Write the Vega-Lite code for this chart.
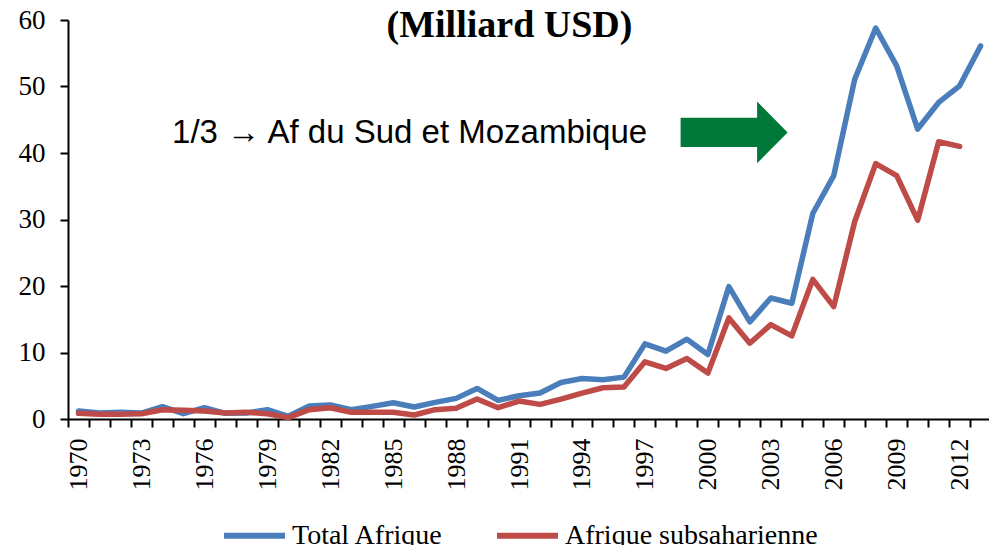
{
  "$schema": "https://vega.github.io/schema/vega-lite/v6.json",
  "width": 921,
  "height": 399,
  "autosize": {"type": "none"},
  "padding": {"left": 68, "top": 20, "right": 0, "bottom": 126},
  "background": "white",
  "config": {"view": {"stroke": null}},
  "title": {
    "text": "(Milliard USD)",
    "font": "Liberation Serif",
    "fontSize": 38,
    "fontWeight": "bold",
    "color": "black",
    "anchor": "middle",
    "frame": "group",
    "baseline": "alphabetic",
    "offset": -69,
    "dx": -19
  },
  "resolve": {"axis": {"x": "independent"}},
  "datasets": {
    "series": [
      {"year": 1970, "series": "Total Afrique", "value": 1.2},
      {"year": 1971, "series": "Total Afrique", "value": 0.9},
      {"year": 1972, "series": "Total Afrique", "value": 1.0},
      {"year": 1973, "series": "Total Afrique", "value": 0.9},
      {"year": 1974, "series": "Total Afrique", "value": 1.85},
      {"year": 1975, "series": "Total Afrique", "value": 0.8},
      {"year": 1976, "series": "Total Afrique", "value": 1.7},
      {"year": 1977, "series": "Total Afrique", "value": 0.85},
      {"year": 1978, "series": "Total Afrique", "value": 0.9},
      {"year": 1979, "series": "Total Afrique", "value": 1.4},
      {"year": 1980, "series": "Total Afrique", "value": 0.4},
      {"year": 1981, "series": "Total Afrique", "value": 1.95},
      {"year": 1982, "series": "Total Afrique", "value": 2.1},
      {"year": 1983, "series": "Total Afrique", "value": 1.4},
      {"year": 1984, "series": "Total Afrique", "value": 1.9},
      {"year": 1985, "series": "Total Afrique", "value": 2.45},
      {"year": 1986, "series": "Total Afrique", "value": 1.8},
      {"year": 1987, "series": "Total Afrique", "value": 2.5},
      {"year": 1988, "series": "Total Afrique", "value": 3.1},
      {"year": 1989, "series": "Total Afrique", "value": 4.6},
      {"year": 1990, "series": "Total Afrique", "value": 2.8},
      {"year": 1991, "series": "Total Afrique", "value": 3.5},
      {"year": 1992, "series": "Total Afrique", "value": 3.9},
      {"year": 1993, "series": "Total Afrique", "value": 5.5},
      {"year": 1994, "series": "Total Afrique", "value": 6.1},
      {"year": 1995, "series": "Total Afrique", "value": 5.9},
      {"year": 1996, "series": "Total Afrique", "value": 6.3},
      {"year": 1997, "series": "Total Afrique", "value": 11.3},
      {"year": 1998, "series": "Total Afrique", "value": 10.2},
      {"year": 1999, "series": "Total Afrique", "value": 12.0},
      {"year": 2000, "series": "Total Afrique", "value": 9.7},
      {"year": 2001, "series": "Total Afrique", "value": 19.9},
      {"year": 2002, "series": "Total Afrique", "value": 14.6},
      {"year": 2003, "series": "Total Afrique", "value": 18.2},
      {"year": 2004, "series": "Total Afrique", "value": 17.4},
      {"year": 2005, "series": "Total Afrique", "value": 30.9},
      {"year": 2006, "series": "Total Afrique", "value": 36.6},
      {"year": 2007, "series": "Total Afrique", "value": 51.1},
      {"year": 2008, "series": "Total Afrique", "value": 58.8},
      {"year": 2009, "series": "Total Afrique", "value": 53.1},
      {"year": 2010, "series": "Total Afrique", "value": 43.6},
      {"year": 2011, "series": "Total Afrique", "value": 47.6},
      {"year": 2012, "series": "Total Afrique", "value": 50.1},
      {"year": 2013, "series": "Total Afrique", "value": 56.1},
      {"year": 1970, "series": "Afrique subsaharienne", "value": 0.85},
      {"year": 1971, "series": "Afrique subsaharienne", "value": 0.7},
      {"year": 1972, "series": "Afrique subsaharienne", "value": 0.7},
      {"year": 1973, "series": "Afrique subsaharienne", "value": 0.8},
      {"year": 1974, "series": "Afrique subsaharienne", "value": 1.4},
      {"year": 1975, "series": "Afrique subsaharienne", "value": 1.3},
      {"year": 1976, "series": "Afrique subsaharienne", "value": 1.2},
      {"year": 1977, "series": "Afrique subsaharienne", "value": 0.9},
      {"year": 1978, "series": "Afrique subsaharienne", "value": 1.0},
      {"year": 1979, "series": "Afrique subsaharienne", "value": 0.8},
      {"year": 1980, "series": "Afrique subsaharienne", "value": 0.2},
      {"year": 1981, "series": "Afrique subsaharienne", "value": 1.4},
      {"year": 1982, "series": "Afrique subsaharienne", "value": 1.7},
      {"year": 1983, "series": "Afrique subsaharienne", "value": 1.0},
      {"year": 1984, "series": "Afrique subsaharienne", "value": 1.0},
      {"year": 1985, "series": "Afrique subsaharienne", "value": 1.0},
      {"year": 1986, "series": "Afrique subsaharienne", "value": 0.6},
      {"year": 1987, "series": "Afrique subsaharienne", "value": 1.4},
      {"year": 1988, "series": "Afrique subsaharienne", "value": 1.6},
      {"year": 1989, "series": "Afrique subsaharienne", "value": 3.0},
      {"year": 1990, "series": "Afrique subsaharienne", "value": 1.7},
      {"year": 1991, "series": "Afrique subsaharienne", "value": 2.7},
      {"year": 1992, "series": "Afrique subsaharienne", "value": 2.2},
      {"year": 1993, "series": "Afrique subsaharienne", "value": 3.0},
      {"year": 1994, "series": "Afrique subsaharienne", "value": 3.9},
      {"year": 1995, "series": "Afrique subsaharienne", "value": 4.7},
      {"year": 1996, "series": "Afrique subsaharienne", "value": 4.8},
      {"year": 1997, "series": "Afrique subsaharienne", "value": 8.6},
      {"year": 1998, "series": "Afrique subsaharienne", "value": 7.6},
      {"year": 1999, "series": "Afrique subsaharienne", "value": 9.1},
      {"year": 2000, "series": "Afrique subsaharienne", "value": 6.9},
      {"year": 2001, "series": "Afrique subsaharienne", "value": 15.2},
      {"year": 2002, "series": "Afrique subsaharienne", "value": 11.4},
      {"year": 2003, "series": "Afrique subsaharienne", "value": 14.2},
      {"year": 2004, "series": "Afrique subsaharienne", "value": 12.5},
      {"year": 2005, "series": "Afrique subsaharienne", "value": 21.0},
      {"year": 2006, "series": "Afrique subsaharienne", "value": 16.9},
      {"year": 2007, "series": "Afrique subsaharienne", "value": 29.7},
      {"year": 2008, "series": "Afrique subsaharienne", "value": 38.4},
      {"year": 2009, "series": "Afrique subsaharienne", "value": 36.6},
      {"year": 2010, "series": "Afrique subsaharienne", "value": 29.9},
      {"year": 2011, "series": "Afrique subsaharienne", "value": 41.7},
      {"year": 2012, "series": "Afrique subsaharienne", "value": 41.0}
    ],
    "note": [
      {"year": 1974.46, "value": 43.0, "label": "1/3 → Af du Sud et Mozambique"}
    ],
    "arrow": [
      {"year": 2001.25, "value": 43.1}
    ]
  },
  "layer": [
    {
      "data": {"name": "series"},
      "mark": {"type": "line", "strokeWidth": 5.5, "strokeJoin": "round", "strokeCap": "round"},
      "encoding": {
        "x": {
          "field": "year",
          "type": "quantitative",
          "scale": {"domain": [1969.5, 2013.4], "nice": false, "zero": false},
          "axis": {
            "title": null,
            "orient": "bottom",
            "values": [1969.5, 1970.5, 1971.5, 1972.5, 1973.5, 1974.5, 1975.5, 1976.5, 1977.5, 1978.5, 1979.5, 1980.5, 1981.5, 1982.5, 1983.5, 1984.5, 1985.5, 1986.5, 1987.5, 1988.5, 1989.5, 1990.5, 1991.5, 1992.5, 1993.5, 1994.5, 1995.5, 1996.5, 1997.5, 1998.5, 1999.5, 2000.5, 2001.5, 2002.5, 2003.5, 2004.5, 2005.5, 2006.5, 2007.5, 2008.5, 2009.5, 2010.5, 2011.5, 2012.5],
            "labels": false,
            "grid": false,
            "tickSize": 8,
            "tickWidth": 2,
            "tickColor": "black",
            "domainColor": "black",
            "domainWidth": 2
          }
        },
        "y": {
          "field": "value",
          "type": "quantitative",
          "scale": {"domain": [0, 60], "nice": false},
          "axis": {
            "title": null,
            "values": [0, 10, 20, 30, 40, 50, 60],
            "labelFont": "Liberation Serif",
            "labelFontSize": 27,
            "labelColor": "black",
            "labelPadding": 15,
            "grid": false,
            "tickSize": 8,
            "tickWidth": 2,
            "tickColor": "black",
            "domainColor": "black",
            "domainWidth": 2
          }
        },
        "color": {
          "field": "series",
          "type": "nominal",
          "scale": {"domain": ["Total Afrique", "Afrique subsaharienne"], "range": ["#4A7EBB", "#BE4B48"]},
          "legend": {
            "title": null,
            "orient": "none",
            "direction": "horizontal",
            "legendX": 153,
            "legendY": 482,
            "padding": 0,
            "symbolType": "stroke",
            "symbolSize": 3721,
            "symbolStrokeWidth": 6,
            "labelFont": "Liberation Serif",
            "labelFontSize": 28,
            "labelColor": "black",
            "labelOffset": 4,
            "labelLimit": 400,
            "columnPadding": 41
          }
        },
        "order": {"field": "year", "type": "quantitative"}
      }
    },
    {
      "data": {"name": "note"},
      "mark": {"type": "text", "font": "Liberation Sans", "fontSize": 33, "align": "left", "baseline": "middle", "color": "black"},
      "encoding": {
        "x": {
          "field": "year",
          "type": "quantitative",
          "axis": {
            "title": null,
            "orient": "bottom",
            "values": [1970, 1973, 1976, 1979, 1982, 1985, 1988, 1991, 1994, 1997, 2000, 2003, 2006, 2009, 2012],
            "format": "d",
            "labelAngle": 270,
            "labelAlign": "right",
            "labelBaseline": "middle",
            "labelPadding": 19,
            "labelFont": "Liberation Serif",
            "labelFontSize": 26,
            "labelColor": "black",
            "labelOverlap": false,
            "labelBound": false,
            "labelFlush": false,
            "grid": false,
            "ticks": false,
            "domain": false
          }
        },
        "y": {"field": "value", "type": "quantitative"},
        "text": {"field": "label"}
      }
    },
    {
      "data": {"name": "arrow"},
      "mark": {
        "type": "point",
        "filled": true,
        "color": "#00783A",
        "opacity": 1,
        "size": 11449,
        "shape": "M -1 -0.275 L 0.43 -0.275 L 0.43 -0.576 L 1 0 L 0.43 0.576 L 0.43 0.275 L -1 0.275 Z"
      },
      "encoding": {
        "x": {"field": "year", "type": "quantitative", "axis": null},
        "y": {"field": "value", "type": "quantitative"}
      }
    }
  ]
}
